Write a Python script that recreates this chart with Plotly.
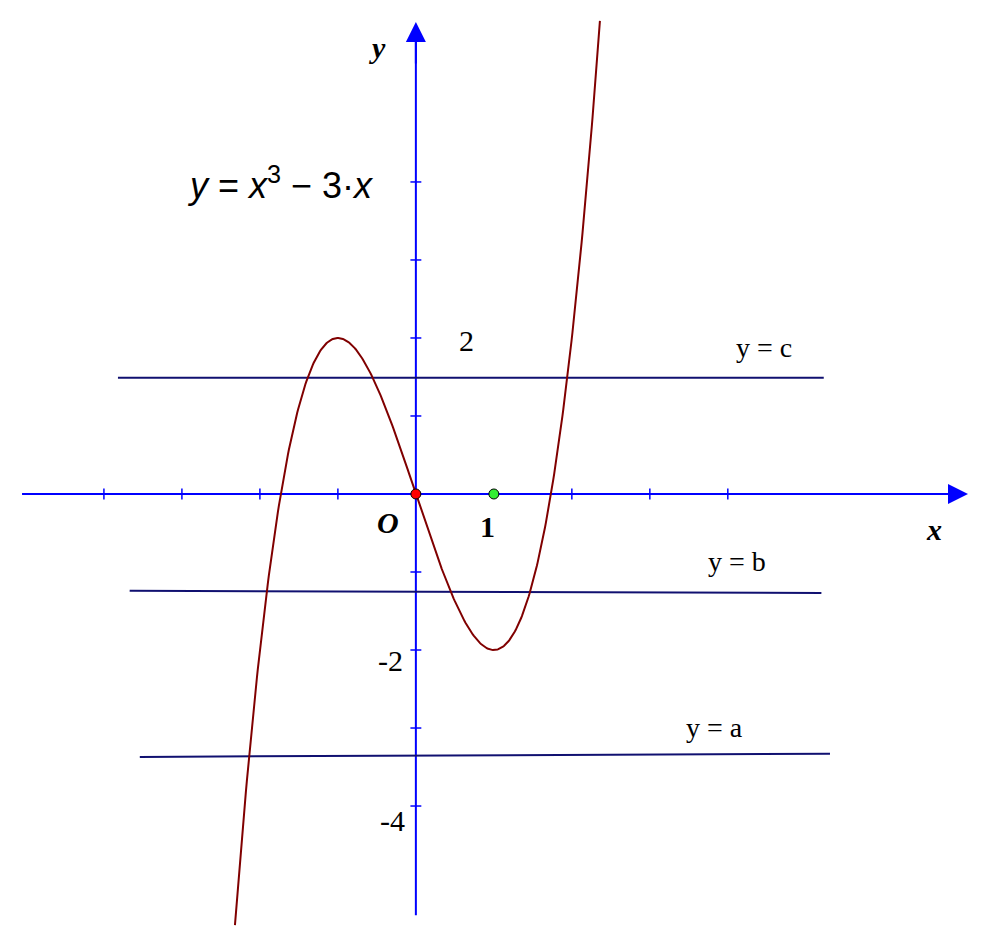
import numpy as np
import plotly.graph_objects as go

curve_x = np.linspace(-2.32, 2.36, 400)
curve_y = curve_x**3 - 3*curve_x
line_names = ["y = c", "y = b", "y = a"]
line_x0 = [-3.82, -3.67, -3.54]
line_x1 = [5.23, 5.2, 5.31]
line_y0 = [1.49, -1.24, -3.37]
line_y1 = [1.49, -1.27, -3.33]
label_x = [4.46, 4.12, 3.83]
label_y = [1.88, -0.87, -2.99]
xticks = [-4, -3, -2, -1, 2, 3, 4]
yticks = [4, 3, 2, 1, -1, -2, -3, -4]

fig = go.Figure()
blue = "#0000ff"
fig.add_trace(go.Scatter(x=[-5.05, 6.9], y=[0, 0], mode="lines", line=dict(color=blue, width=2), hoverinfo="skip"))
fig.add_trace(go.Scatter(x=[0, 0], y=[-5.4, 5.85], mode="lines", line=dict(color=blue, width=2), hoverinfo="skip"))
fig.add_annotation(x=7.08, y=0, ax=6.6, ay=0, xref="x", yref="y", axref="x", ayref="y",
                   showarrow=True, arrowhead=2, arrowsize=2, arrowwidth=2, arrowcolor=blue, text="")
fig.add_annotation(x=0, y=6.05, ax=0, ay=5.5, xref="x", yref="y", axref="x", ayref="y",
                   showarrow=True, arrowhead=2, arrowsize=2, arrowwidth=2, arrowcolor=blue, text="")
for t in xticks:
    fig.add_shape(type="line", x0=t, x1=t, y0=-0.07, y1=0.07, line=dict(color=blue, width=1.5))
for t in yticks:
    fig.add_shape(type="line", x0=-0.07, x1=0.07, y0=t, y1=t, line=dict(color=blue, width=1.5))
for i in range(3):
    fig.add_trace(go.Scatter(x=[line_x0[i], line_x1[i]], y=[line_y0[i], line_y1[i]], mode="lines",
                             line=dict(color="#101070", width=2), hoverinfo="skip"))
    fig.add_annotation(x=label_x[i], y=label_y[i], text=line_names[i], showarrow=False,
                       font=dict(family="Liberation Serif", size=28, color="black"))
fig.add_trace(go.Scatter(x=curve_x, y=curve_y, mode="lines", line=dict(color="#800000", width=2), hoverinfo="skip"))
fig.add_trace(go.Scatter(x=[0], y=[0], mode="markers", marker=dict(color="red", size=10, line=dict(color="black", width=1))))
fig.add_trace(go.Scatter(x=[1], y=[0], mode="markers", marker=dict(color="#33ee33", size=10, line=dict(color="black", width=1))))

serif = "Liberation Serif"
texts = [
    (-0.49, 5.72, "<b><i>y</i></b>", 30),
    (6.65, -0.46, "<b><i>x</i></b>", 30),
    (-0.36, -0.36, "<b><i>O</i></b>", 30),
    (0.92, -0.42, "<b>1</b>", 30),
    (0.65, 1.97, "2", 30),
    (-0.33, -2.13, "-2", 30),
    (-0.3, -4.18, "-4", 30),
]
for x, y, t, s in texts:
    fig.add_annotation(x=x, y=y, text=t, showarrow=False, font=dict(family=serif, size=s, color="black"))
fig.add_annotation(x=-1.74, y=3.99, text="<i>y</i> = <i>x</i><sup>3</sup> − 3·<i>x</i>", showarrow=False,
                   font=dict(family="Liberation Sans", size=36, color="black"))

fig.update_layout(width=992, height=940, margin=dict(l=0, r=0, t=0, b=0), showlegend=False,
                  plot_bgcolor="white", paper_bgcolor="white",
                  xaxis=dict(range=[-5.23, 7.49], visible=False),
                  yaxis=dict(range=[-5.82, 6.23], visible=False))
fig.write_html("out.html")
